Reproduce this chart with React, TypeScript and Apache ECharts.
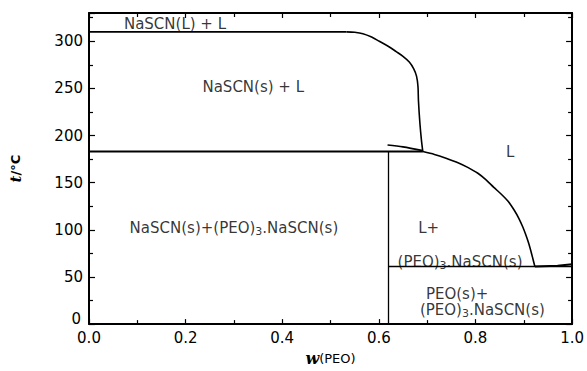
import React, { useEffect, useRef } from "react";
import * as echarts from "echarts";

const meltLine: [number, number][] = [[0, 310], [0.533, 310]];
const upperLiquidus: [number, number][] = [
  [0.533, 310], [0.55, 309.5], [0.567, 308], [0.585, 304.5], [0.601, 300], [0.62, 294.5],
  [0.636, 289], [0.65, 284], [0.663, 278], [0.672, 271], [0.678, 263], [0.681, 252],
  [0.682, 237], [0.685, 213], [0.688, 196], [0.691, 183],
];
const lowerLiquidus: [number, number][] = [
  [0.691, 183], [0.715, 180], [0.739, 176], [0.765, 171], [0.785, 166], [0.805, 160],
  [0.822, 153], [0.838, 145], [0.853, 138], [0.868, 130], [0.88, 121], [0.89, 112],
  [0.898, 103], [0.904, 95], [0.91, 86], [0.915, 77], [0.919, 69], [0.923, 61],
];
const eutecticRise: [number, number][] = [[0.923, 61], [0.97, 62], [1.0, 63.5]];
const peritecticLine: [number, number][] = [[0, 183], [0.691, 183]];
const stubLine: [number, number][] = [[0.618, 190], [0.65, 188], [0.691, 184]];
const compoundLine: [number, number][] = [[0.62, 0], [0.62, 183]];
const eutecticLine: [number, number][] = [[0.62, 61], [1.0, 61]];

const regionLabels: { text: string; w: number; t: number; align?: string }[] = [
  { text: "NaSCN(L) + L", w: 0.178, t: 318 },
  { text: "NaSCN(s) + L", w: 0.34, t: 252 },
  { text: "L", w: 0.872, t: 183 },
  { text: "NaSCN(s)+(PEO){sub|3}.NaSCN(s)", w: 0.3, t: 102 },
  { text: "L+", w: 0.703, t: 102 },
  { text: "(PEO){sub|3}.NaSCN(s)", w: 0.768, t: 66 },
  { text: "{p|PEO(s)+}\n(PEO){sub|3}.NaSCN(s)", w: 0.685, t: 23, align: "left" },
];

const FONT = "DejaVu Sans";

export default function App() {
  const ref = useRef<HTMLDivElement>(null);
  useEffect(() => {
    if (!ref.current) return;
    const chart = echarts.init(ref.current, null, { renderer: "svg" });
    const line = (data: [number, number][], width = 1.6, smooth: number | boolean = false) => ({
      type: "line",
      data,
      showSymbol: false,
      symbol: "none",
      smooth,
      lineStyle: { color: "#000", width },
      xAxisIndex: 0,
      yAxisIndex: 0,
      z: 3,
    });
    const axisCommon = {
      axisLine: { show: true, onZero: false, lineStyle: { color: "#000", width: 2 } },
      splitLine: { show: false },
    };
    const tickStyle = { color: "#000", width: 1.2 };
    chart.setOption({
      animation: false,
      backgroundColor: "#fff",
      grid: { left: 89, right: 14, top: 13, bottom: 41 },
      xAxis: [
        {
          type: "value", min: 0, max: 1, interval: 0.2, position: "bottom",
          ...axisCommon,
          axisTick: { inside: true, length: 5, lineStyle: tickStyle },
          minorTick: { show: true, splitNumber: 2, length: 4, lineStyle: tickStyle },
          axisLabel: { color: "#000", fontFamily: FONT, fontSize: 15, margin: 6, formatter: (v: number) => v.toFixed(1) },
          name: "{i|w}(PEO)",
          nameLocation: "middle",
          nameGap: 21,
          nameTextStyle: {
            color: "#000", fontFamily: FONT, fontSize: 13,
            rich: { i: { fontFamily: "DejaVu Serif", fontStyle: "italic", fontWeight: "bold", fontSize: 16, color: "#000" } },
          },
        },
        {
          type: "value", min: 0, max: 1, interval: 0.2, position: "top",
          ...axisCommon,
          axisTick: { inside: true, length: 5, lineStyle: tickStyle },
          minorTick: { show: true, splitNumber: 2, length: 4, lineStyle: tickStyle },
          axisLabel: { show: false },
        },
      ],
      yAxis: [
        {
          type: "value", min: 0, max: 330, interval: 50, position: "left",
          ...axisCommon,
          axisTick: { inside: true, length: 6, lineStyle: tickStyle },
          minorTick: { show: true, splitNumber: 2, length: 4, lineStyle: tickStyle },
          axisLabel: {
            color: "#000", fontFamily: FONT, fontSize: 15, margin: 6, showMaxLabel: false,
            formatter: (v: number) => (v === 0 ? "{z|0}" : String(v)),
            rich: { z: { fontFamily: FONT, fontSize: 15, color: "#000", padding: [0, 2, 10, 0] } },
          },
          name: "{i|t}/°C",
          nameLocation: "middle",
          nameRotate: 90,
          nameGap: 66,
          nameTextStyle: {
            color: "#000", fontFamily: FONT, fontSize: 13, fontWeight: "bold",
            rich: { i: { fontFamily: "DejaVu Serif", fontStyle: "italic", fontWeight: "bold", fontSize: 15, color: "#000" } },
          },
        },
        {
          type: "value", min: 0, max: 330, interval: 50, position: "right",
          ...axisCommon,
          axisTick: { inside: true, length: 6, lineStyle: tickStyle },
          minorTick: { show: true, splitNumber: 2, length: 4, lineStyle: tickStyle },
          axisLabel: { show: false },
        },
      ],
      series: [
        line(meltLine),
        line(upperLiquidus, 1.6, 0.3),
        line(lowerLiquidus, 1.6, 0.25),
        line(eutecticRise, 2),
        line(peritecticLine, 2),
        line(stubLine, 1.6, 0.3),
        line(compoundLine, 1.3),
        line(eutecticLine, 1.5),
        {
          type: "scatter",
          data: regionLabels.map((r) => ({
            value: [r.w, r.t],
            name: r.text,
            label: r.align ? { align: r.align } : undefined,
          })),
          symbolSize: 0,
          z: 5,
          label: {
            show: true,
            position: "inside",
            formatter: (p: any) => p.name,
            color: "#000",
            fontFamily: FONT,
            fontSize: 15,
            lineHeight: 16,
            rich: {
              sub: { fontFamily: FONT, fontSize: 11, color: "#000", padding: [7, 0, 0, 0], lineHeight: 16 },
              p: { fontFamily: FONT, fontSize: 15, color: "#000", padding: [0, 0, 0, 6], lineHeight: 16 },
            },
          },
        },
      ],
    });
    return () => chart.dispose();
  }, []);
  return <div ref={ref} style={{ position: "fixed", left: 0, top: 0, width: 587, height: 371, background: "#fff" }} />;
}
